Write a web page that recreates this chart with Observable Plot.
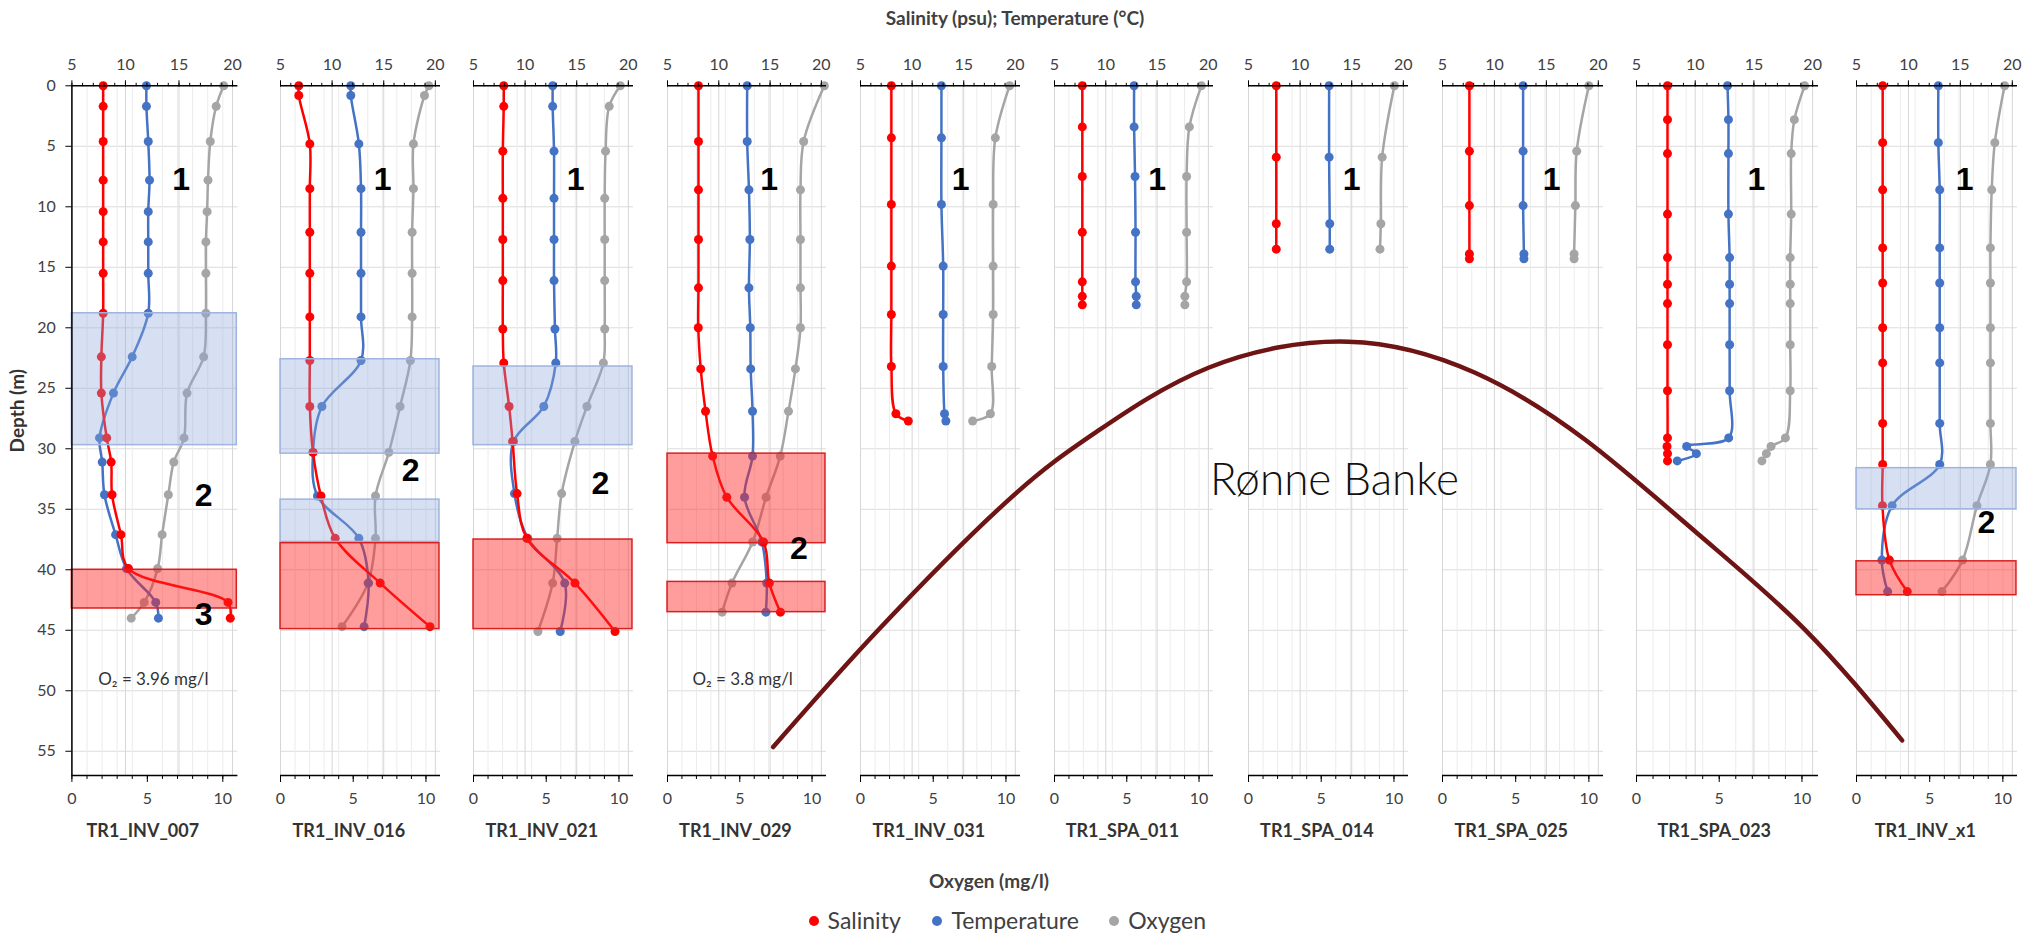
<!DOCTYPE html>
<html><head><meta charset="utf-8">
<script src="https://cdn.jsdelivr.net/npm/d3@7"></script>
<script src="https://cdn.jsdelivr.net/npm/@observablehq/plot@0.6"></script>
<style>
body{margin:0;background:#fff;}
#chart{position:relative;width:2036px;height:935px;overflow:hidden;font-family:Lato,"Open Sans",sans-serif;}
#chart svg{position:absolute;top:0;overflow:visible;}
.lbl{position:absolute;white-space:nowrap;line-height:1;color:#404040;}
.dot{position:absolute;width:10px;height:10px;border-radius:50%;}
</style></head><body><div id="chart"></div><script>
// ---------- data ----------
const stations = ["TR1_INV_007","TR1_INV_016","TR1_INV_021","TR1_INV_029","TR1_INV_031","TR1_SPA_011","TR1_SPA_014","TR1_SPA_025","TR1_SPA_023","TR1_INV_x1"];

const depth007 = [0,1.7,4.6,7.8,10.4,12.9,15.5,18.8,22.4,25.4,29.1,31.1,33.8,37.1,39.9,42.7,44.0];
const sal007   = [7.92,7.92,7.92,7.92,7.92,7.92,7.92,7.92,7.75,7.75,8.25,8.67,8.75,9.58,10.29,19.58,19.79];
const temp007  = [11.96,11.96,12.13,12.25,12.13,12.13,12.13,12.13,10.63,8.88,7.58,7.83,8.04,9.08,10.1,12.83,13.08];
const oxy007   = [10.06,9.56,9.17,9.02,8.96,8.88,8.88,8.88,8.73,7.63,7.43,6.75,6.39,5.98,5.68,4.79,3.93];

const depth016 = [0,0.8,4.8,8.5,12.1,15.5,19.1,22.7,26.5,30.3,33.9,37.4,41.1,44.7];
const sal016   = [6.77,6.77,7.84,7.84,7.84,7.84,7.84,7.84,7.84,8.15,8.92,10.3,14.66,19.48];
const temp016  = [11.81,11.81,12.59,12.8,12.8,12.8,12.8,12.8,9.01,8.15,8.58,12.59,13.53,13.1];
const oxy016   = [10.2,9.9,9.14,9.14,9.05,9.05,9.05,8.93,8.22,7.45,6.53,6.53,6.01,4.23];

const depth021 = [0,1.7,5.4,9.3,12.7,16.1,20.1,22.9,26.5,29.4,33.7,37.4,41.1,45.1];
const sal021   = [7.93,7.93,7.84,7.84,7.84,7.84,7.84,7.93,8.45,8.79,9.22,10.17,14.83,18.71];
const temp021  = [12.67,12.67,12.8,12.8,12.8,12.8,12.89,12.97,11.81,8.88,8.97,10.26,13.84,13.4];
const oxy021   = [10.09,9.33,9.08,9.02,9.02,9.02,9.02,8.93,7.8,6.97,6.06,5.75,5.44,4.43];

const depth029 = [0,4.6,8.6,12.7,16.7,20.0,23.4,26.9,30.6,34.0,37.7,41.1,43.5];
const sal029   = [8.02,8.02,8.02,8.02,8.02,8.0,8.24,8.71,9.4,10.78,14.37,14.93,16.01];
const temp029  = [12.77,12.77,12.94,13.03,12.94,13.07,13.11,13.29,13.29,12.51,14.2,14.67,14.59];
const oxy029   = [10.85,9.42,9.2,9.2,9.2,9.2,8.85,8.37,7.8,6.82,5.89,4.46,3.78];

const depth031 = [0,4.3,9.8,14.9,18.9,23.2,27.1,27.7];
const sal031   = [7.99,7.99,7.99,7.99,7.99,7.99,8.43,9.63];
const temp031  = [12.84,12.84,12.84,13.01,13.01,13.01,13.14,13.27];
const oxy031   = [10.25,9.27,9.12,9.12,9.12,9.02,8.93,7.71];

const depthS011 = [0,3.4,7.5,12.1,16.2,17.4,18.1];
const salS011   = [7.71,7.71,7.71,7.71,7.71,7.71,7.71];
const tempS011  = [12.76,12.76,12.85,12.9,12.9,12.97,12.97];
const oxyS011   = [10.16,9.33,9.14,9.14,9.14,9.02,9.02];

const depthS014 = [0,5.9,11.4,13.5];
const salS014   = [7.69,7.69,7.69,7.69];
const tempS014  = [12.81,12.81,12.87,12.87];
const oxyS014   = [10.03,9.19,9.1,9.04];

const depthS025 = [0,5.4,9.9,13.9,14.3];
const salS025   = [7.59,7.59,7.59,7.59,7.59];
const tempS025  = [12.76,12.76,12.76,12.84,12.84];
const oxyS025   = [10.0,9.17,9.08,8.99,8.99];

const depthS023 = [0,2.8,5.6,10.6,14.2,16.4,18.0,21.4,25.2,29.1,29.8,30.4,31.0];
const salS023   = [7.64,7.64,7.64,7.64,7.64,7.64,7.64,7.64,7.64,7.64,7.6,7.64,7.64];
const tempS023  = [12.75,12.83,12.83,12.83,12.93,12.93,12.93,12.93,12.93,12.85,9.27,10.1,8.47];
const oxyS023   = [10.16,9.54,9.35,9.35,9.29,9.29,9.29,9.29,9.29,9.0,8.13,7.85,7.58];

const depthX1 = [0,4.7,8.6,13.4,16.3,20.0,22.9,27.9,31.3,34.7,39.2,41.8];
const salX1   = [7.52,7.52,7.52,7.52,7.52,7.52,7.52,7.52,7.52,7.5,8.17,9.89];
const tempX1  = [12.88,12.88,13.01,13.01,13.01,13.01,13.01,13.01,13.01,8.43,7.44,8.0];
const oxyX1   = [10.12,9.45,9.24,9.15,9.15,9.15,9.15,9.15,9.15,8.23,7.25,5.84];

// highlighted layers (depth ranges, m)
const boxStation = ["TR1_INV_007","TR1_INV_007","TR1_INV_016","TR1_INV_016","TR1_INV_016","TR1_INV_021","TR1_INV_021","TR1_INV_029","TR1_INV_029","TR1_INV_x1","TR1_INV_x1"];
const boxKind    = ["blue","red","blue","blue","red","blue","red","red","red","blue","red"];
const boxTop     = [18.8,40.0,22.6,34.2,37.8,23.2,37.5,30.4,41.0,31.6,39.3];
const boxBottom  = [29.7,43.2,30.4,37.7,44.9,29.7,44.9,37.8,43.5,35.0,42.1];

// layer numbers
const numStation = ["TR1_INV_007","TR1_INV_007","TR1_INV_007","TR1_INV_016","TR1_INV_016","TR1_INV_021","TR1_INV_021","TR1_INV_029","TR1_INV_029","TR1_INV_031","TR1_SPA_011","TR1_SPA_014","TR1_SPA_025","TR1_SPA_023","TR1_INV_x1","TR1_INV_x1"];
const numText    = ["1","2","3","1","2","1","2","1","2","1","1","1","1","1","1","2"];
const numX       = [15.2,17.3,17.3,14.9,17.6,14.9,17.3,14.9,17.8,14.7,15.0,15.0,15.5,15.2,15.4,17.5];
const numDepth   = [7.8,33.9,43.7,7.8,31.8,7.8,32.9,7.8,38.3,7.8,7.8,7.8,7.8,7.8,7.8,36.1];

// oxygen notes
const noteStation = ["TR1_INV_007","TR1_INV_029"];
const noteText    = ["O₂ = 3.96 mg/l","O₂ = 3.8 mg/l"];
const noteOxy     = [5.4,5.2];
const noteDepth   = [49.1,49.1];

// Rønne Banke outline (x: % of transect width, depth m)
const bankeX     = [37.95,43.1,49.46,53.83,59.33,66.2,72.4,77.87,83.35,88.6,93.4];
const bankeDepth = [54.65,45.0,34.3,28.6,23.3,21.15,23.7,29.3,37.0,44.9,54.1];

// ticks
const depthTicks = [0,5,10,15,20,25,30,35,40,45,50,55];
const depthGrid = [5,10,15,20,25,30,35,40,45,50,55];
const topTicks = [5,10,15,20];
const topGrid = [5,10,15,20];
const topMinor = [5,6,7,8,9,10,11,12,13,14,15,16,17,18,19,20];
const oxyTicks = [0,5,10];
const oxyMinor = [0,1,2,3,4,5,6,7,8,9,10];
const oxyGrid = [1,2,3,4,6,7,8,9,10];

// ---------- layout ----------
const layoutLeft  = [71.4,280,473,667,860,1054,1248,1442,1636,1856];
const layoutWidth = [166,160,160,159,160,159,160,161,182,161];
const TOP = 85.3, BOTTOM_MARGIN = 160, H = 935;
const SAL = "#ff0000", TEMP = "#4472c4", OXY = "#a5a5a5";
const NARROW = "'Liberation Sans Narrow','Arial Narrow','Liberation Sans',sans-serif";

const profiles = [
  [depth007,sal007,temp007,oxy007],[depth016,sal016,temp016,oxy016],[depth021,sal021,temp021,oxy021],
  [depth029,sal029,temp029,oxy029],[depth031,sal031,temp031,oxy031],[depthS011,salS011,tempS011,oxyS011],
  [depthS014,salS014,tempS014,oxyS014],[depthS025,salS025,tempS025,oxyS025],[depthS023,salS023,tempS023,oxyS023],
  [depthX1,salX1,tempX1,oxyX1]
].map(([d,s,t,o],i)=>({name:stations[i],depth:d,sal:s,temp:t,oxy:o}));

// oxygen axis (0–11) shares the panel width with the salinity/temperature axis (5–20.5)
const toTop = o => 5 + o * 15.5 / 11;
const fromTop = v => Math.round((v - 5) * 11 / 15.5);

const chart = document.getElementById("chart");

profiles.forEach((p, i) => {
  const L = layoutLeft[i], W = layoutWidth[i];
  const ML = i === 0 ? L : 14, MR = 16;
  const rows = p.depth.map((d,k)=>({depth:d, sal:p.sal[k], temp:p.temp[k], oxy:toTop(p.oxy[k])}));
  const boxes = boxStation.map((s,k)=>({s, kind:boxKind[k], y1:boxTop[k], y2:boxBottom[k], x1:5, x2:20.4})).filter(b=>b.s===p.name);
  const nums = numStation.map((s,k)=>({s, t:numText[k], x:numX[k], depth:numDepth[k]})).filter(b=>b.s===p.name);
  const notes = noteStation.map((s,k)=>({s, t:noteText[k], x:toTop(noteOxy[k]), depth:noteDepth[k]})).filter(b=>b.s===p.name);
  const marks = [
    Plot.ruleY(depthGrid, {stroke:"#dcdcdc", strokeWidth:1}),
    Plot.ruleX(oxyGrid.map(toTop), {stroke:"#ececec", strokeWidth:1}),
    Plot.ruleX(topGrid, {stroke:"#d6d6d6", strokeWidth:1}),
    Plot.line(rows, {x:"oxy", y:"depth", stroke:OXY, strokeWidth:2.5, curve:"catmull-rom"}),
    Plot.dot(rows, {x:"oxy", y:"depth", fill:OXY, r:4.5}),
    Plot.line(rows, {x:"temp", y:"depth", stroke:TEMP, strokeWidth:2.5, curve:"catmull-rom"}),
    Plot.dot(rows, {x:"temp", y:"depth", fill:TEMP, r:4.5}),
    Plot.line(rows, {x:"sal", y:"depth", stroke:SAL, strokeWidth:2.5, curve:"catmull-rom"}),
    Plot.dot(rows, {x:"sal", y:"depth", fill:SAL, r:4.5}),
    Plot.rect(boxes, {x1:"x1", x2:"x2", y1:"y1", y2:"y2",
      fill:d=>d.kind==="red"?"#ff2424":"#8ea9db",
      fillOpacity:d=>d.kind==="red"?0.45:0.36,
      stroke:d=>d.kind==="red"?"#d92020":"#9fb4de", strokeWidth:1.5}),
    Plot.text(nums, {x:"x", y:"depth", text:"t", fontSize:32, fontWeight:"bold", fontFamily:NARROW, fill:"#000"}),
    Plot.text(notes, {x:"x", y:"depth", text:"t", fontSize:17, fill:"#333"}),
    Plot.ruleY([0], {stroke:"#000", strokeWidth:1.5}),
    Plot.ruleY([57], {stroke:"#000", strokeWidth:1.5}),
    Plot.axisX({anchor:"top", ticks:topMinor, tickSize:3.5, text:null, label:null, stroke:"#000"}),
    Plot.axisX({anchor:"top", ticks:topTicks, tickSize:6, tickPadding:10, label:null, stroke:"#000", fill:"#404040", fontSize:16}),
    Plot.axisX({anchor:"bottom", ticks:oxyMinor.map(toTop), tickSize:4, text:null, label:null, stroke:"#000"}),
    Plot.axisX({anchor:"bottom", ticks:oxyTicks.map(toTop), tickSize:7, tickPadding:10, tickFormat:fromTop, label:null, stroke:"#000", fill:"#404040", fontSize:16}),
    Plot.text([{x:toTop(4.7), t:p.name}], {x:"x", text:"t", frameAnchor:"bottom", dy:56, lineAnchor:"middle", fontSize:18, fontWeight:"bold", fill:"#333"})
  ];
  if (i === 0) {
    marks.push(
      Plot.ruleX([5], {stroke:"#000", strokeWidth:1.5}),
      Plot.axisY({anchor:"left", ticks:depthTicks, tickSize:6, tickPadding:10, label:null, stroke:"#000", fill:"#404040", fontSize:16}),
      Plot.text([{d:30.3}], {y:"d", text:()=>"Depth (m)", frameAnchor:"left", dx:-53.5, rotate:-90, fontSize:19, fontWeight:"bold", fill:"#333"})
    );
  }
  const svg = Plot.plot({
    width: ML + W + MR, height: H,
    marginLeft: ML, marginRight: MR, marginTop: TOP, marginBottom: BOTTOM_MARGIN,
    x: {domain:[5,20.5], axis:null},
    y: {domain:[0,57], reverse:true, axis:null},
    style: {fontFamily:"Lato,'Open Sans',sans-serif", fontSize:"16px", color:"#404040", background:"transparent", overflow:"visible"},
    marks
  });
  svg.style.left = (L - ML) + "px";
  chart.appendChild(svg);
});

// Rønne Banke overlay
const bankeRows = bankeX.map((x,k)=>({x, depth:bankeDepth[k]}));
const overlay = Plot.plot({
  width: 2036, height: H, marginLeft:0, marginRight:0, marginTop:TOP, marginBottom:BOTTOM_MARGIN,
  x:{domain:[0,100], axis:null}, y:{domain:[0,57], reverse:true, axis:null},
  style:{background:"transparent", overflow:"visible"},
  marks:[
    Plot.line(bankeRows, {x:"x", y:"depth", stroke:"#6e1414", strokeWidth:4.5, curve:"natural"}),
    Plot.text([{x:59.4, depth:32.6}], {x:"x", y:"depth", text:()=>"Rønne Banke", textAnchor:"start", fontSize:46, fontWeight:300, fontFamily:"Lato,'Open Sans',sans-serif", fill:"#111"})
  ]
});
d3.select(overlay).selectAll("text").attr("textLength", 249).attr("lengthAdjust", "spacingAndGlyphs");
overlay.style.left = "0px";
overlay.style.pointerEvents = "none";
chart.appendChild(overlay);

// titles and legend
function addLabel(text, x, y, size, weight, anchorCenter) {
  const d = document.createElement("div");
  d.className = "lbl"; d.textContent = text;
  d.style.fontSize = size + "px"; d.style.fontWeight = weight;
  d.style.top = (y - size/2) + "px"; d.style.left = x + "px";
  if (anchorCenter) d.style.transform = "translateX(-50%)";
  chart.appendChild(d);
}
addLabel("Salinity (psu); Temperature (°C)", 1015, 17, 19, "bold", true);
addLabel("Oxygen (mg/l)", 989, 880, 19, "bold", true);
const legendNames = ["Salinity","Temperature","Oxygen"];
const legendColors = [SAL, TEMP, OXY];
const legendDotX = [813.6, 937.4, 1114.2];
legendNames.forEach((n,k)=>{
  const dot = document.createElement("div");
  dot.className = "dot"; dot.style.background = legendColors[k];
  dot.style.left = (legendDotX[k]-5) + "px"; dot.style.top = (921-5) + "px";
  chart.appendChild(dot);
  addLabel(n, legendDotX[k] + 14, 920, 23, "normal", false);
});
</script></body></html>
